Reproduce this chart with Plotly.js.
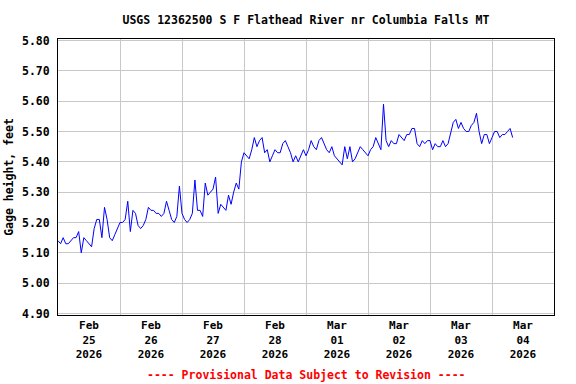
<!DOCTYPE html>
<html>
<head>
<meta charset="utf-8">
<script src="https://cdn.plot.ly/plotly-3.0.1.min.js"></script>
<style>html,body{margin:0;padding:0;background:#fff}#chart{width:576px;height:384px}</style>
</head>
<body>
<div id="chart"></div>
<script>
// Gage height readings, hourly from 2026-02-25 00:00 (feet)
const startTime = "2026-02-25T00:00";
const stepMinutes = 60;
const gageHeight = [
 5.14,5.13,5.15,5.13,5.13,5.14,5.15,5.15,5.17,5.10,5.15,5.14,5.13,5.12,5.18,5.21,5.21,5.15,5.25,5.21,5.15,5.14,5.16,5.18,
 5.20,5.20,5.21,5.27,5.17,5.24,5.23,5.19,5.18,5.19,5.21,5.25,5.24,5.24,5.23,5.23,5.22,5.23,5.27,5.24,5.21,5.20,5.22,5.32,
 5.23,5.21,5.20,5.21,5.23,5.34,5.24,5.24,5.22,5.33,5.29,5.30,5.31,5.35,5.23,5.26,5.25,5.24,5.29,5.26,5.30,5.33,5.31,5.40,
 5.43,5.42,5.41,5.44,5.48,5.45,5.47,5.48,5.43,5.44,5.40,5.42,5.44,5.43,5.43,5.46,5.47,5.45,5.43,5.40,5.42,5.40,5.42,5.44,
 5.42,5.44,5.47,5.45,5.44,5.47,5.48,5.46,5.44,5.43,5.45,5.42,5.41,5.40,5.39,5.45,5.41,5.45,5.40,5.41,5.43,5.45,5.44,5.43,
 5.42,5.44,5.45,5.48,5.46,5.44,5.59,5.47,5.45,5.47,5.46,5.46,5.49,5.48,5.47,5.49,5.49,5.51,5.51,5.46,5.45,5.47,5.46,5.47,
 5.47,5.44,5.46,5.45,5.45,5.47,5.45,5.46,5.50,5.53,5.54,5.51,5.53,5.51,5.50,5.50,5.52,5.53,5.56,5.50,5.46,5.49,5.49,5.46,
 5.48,5.50,5.50,5.48,5.49,5.49,5.50,5.51,5.48
];
const dayTickVals = ["2026-02-25 12:00","2026-02-26 12:00","2026-02-27 12:00","2026-02-28 12:00","2026-03-01 12:00","2026-03-02 12:00","2026-03-03 12:00","2026-03-04 12:00"];
const dayTickText = ["Feb<br>25<br>2026","Feb<br>26<br>2026","Feb<br>27<br>2026","Feb<br>28<br>2026","Mar<br>01<br>2026","Mar<br>02<br>2026","Mar<br>03<br>2026","Mar<br>04<br>2026"];
const yTickVals = [4.90,5.00,5.10,5.20,5.30,5.40,5.50,5.60,5.70,5.80];

function pad(n){return (n<10?"0":"")+n;}
const t0 = Date.parse(startTime + ":00Z");
const times = gageHeight.map((_, i) => {
  const d = new Date(t0 + i*stepMinutes*60000);
  return d.getUTCFullYear()+"-"+pad(d.getUTCMonth()+1)+"-"+pad(d.getUTCDate())+" "+pad(d.getUTCHours())+":"+pad(d.getUTCMinutes());
});

const mono = "DejaVu Sans Mono, Liberation Mono, monospace";
const trace = {x: times, y: gageHeight, type: "scatter", mode: "lines",
  line: {color: "#0000ff", width: 1}, hoverinfo: "skip"};

const layout = {
  width: 576, height: 384,
  paper_bgcolor: "#fff", plot_bgcolor: "#fff",
  margin: {l: 58, r: 22, t: 39, b: 69, pad: 0},
  showlegend: false,
  title: {text: "USGS 12362500 S F Flathead River nr Columbia Falls MT",
    font: {family: mono, size: 11.5, color: "#000", weight: "bold"},
    x: 0.5, xref: "paper", xanchor: "center", y: 1 - 20/384, yref: "container", yanchor: "middle"},
  xaxis: {type: "date", range: ["2026-02-25 00:00", "2026-03-05 00:00"],
    tickmode: "array", tickvals: dayTickVals, ticktext: dayTickText,
    showgrid: false, ticks: "", zeroline: false,
    showline: true, mirror: true, linecolor: "#000", linewidth: 1,
    tickfont: {family: mono, size: 11, color: "#000", weight: "bold"},
    minor: {tickmode: "linear", tick0: "2026-02-25 00:00", dtick: 86400000, showgrid: true, gridcolor: "#c8c8c8", gridwidth: 1, ticks: ""}
  },
  yaxis: {range: [4.895, 5.805], tickmode: "array", tickvals: yTickVals, tickformat: ".2f",
    showgrid: true, gridcolor: "#c8c8c8", gridwidth: 1, zeroline: false, ticks: "",
    showline: true, mirror: true, linecolor: "#000", linewidth: 1,
    ticklabelstandoff: 5,
    tickfont: {family: mono, size: 11.5, color: "#000", weight: "bold"},
    title: {text: "Gage height, feet", font: {family: mono, size: 11.5, color: "#000", weight: "bold"}, standoff: 5}
  },
  annotations: [{text: "---- Provisional Data Subject to Revision ----", xref: "paper", yref: "paper",
    x: 0.5, y: (315 - 375)/276, xanchor: "center", yanchor: "middle", showarrow: false,
    font: {family: mono, size: 11.5, color: "#ff0000", weight: "bold"}}]
};
Plotly.newPlot("chart", [trace], layout, {staticPlot: true, displayModeBar: false});
</script>
</body>
</html>
